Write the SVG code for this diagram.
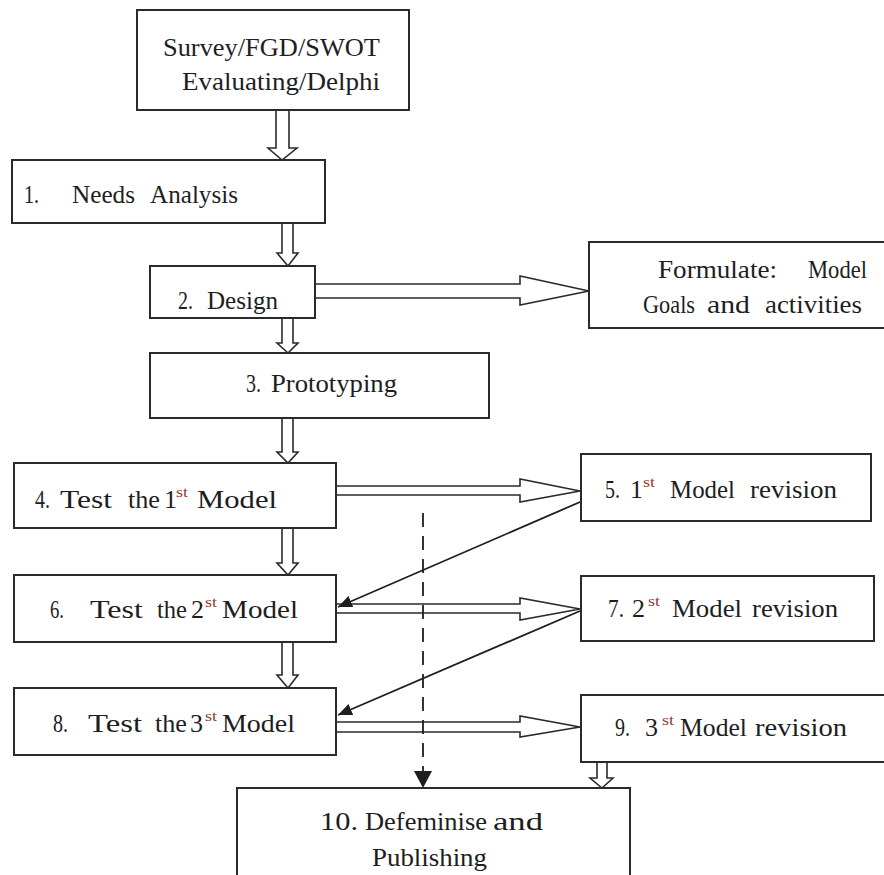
<svg xmlns="http://www.w3.org/2000/svg" width="884" height="875" viewBox="0 0 884 875">
<style>
.box{fill:#fff;stroke:#2a2a2a;stroke-width:2}
.blk{fill:#fff;stroke:#2a2a2a;stroke-width:1.6;stroke-linejoin:miter}
.ln{fill:none;stroke:#1e1e1e;stroke-width:1.8}
.dash{fill:none;stroke:#1e1e1e;stroke-width:1.8;stroke-dasharray:14 9}
text{font-family:'Liberation Serif','Times New Roman',Tinos,'Noto Serif','DejaVu Serif',serif;font-size:26px;fill:#1e1e1e}
text.sup{font-size:15px;fill:#8c3b2e}
</style>
<defs>
<marker id="ah" viewBox="0 0 14 12" refX="14" refY="6" markerWidth="14" markerHeight="12" markerUnits="userSpaceOnUse" orient="auto">
<path d="M0,0 L14,6 L0,12 Z" fill="#1e1e1e"/>
</marker>
</defs>
<rect width="884" height="875" fill="#fff"/>

<g id="connectors">
<path class="blk" d="M276,110 V148 H268 L282,160 L297,148 H289 V110"/>
<path class="blk" d="M282,223 V253 H277 L288,266 L298,253 H293 V223"/>
<path class="blk" d="M282,318 V343 H277 L288,353 L298,343 H293 V318"/>
<path class="blk" d="M282,418 V452 H277 L288,463 L298,452 H293 V418"/>
<path class="blk" d="M282,528 V563 H277 L288,575 L298,563 H293 V528"/>
<path class="blk" d="M282,642 V675 H277 L288,688 L298,675 H293 V642"/>
<path class="blk" d="M597,762 V778 H590 L602,788 L613,778 H607 V762"/>
<path class="blk" d="M315,284 H520 V276 L589,291 L520,305 V298 H315"/>
<path class="blk" d="M336,486 H520 V479 L580,491 L520,502 V495 H336"/>
<path class="blk" d="M336,604 H520 V598 L580,609 L520,620 V613 H336"/>
<path class="blk" d="M336,722 H520 V716 L580,727 L520,737 V732 H336"/>
<line class="ln" x1="580" y1="502" x2="338" y2="607" marker-end="url(#ah)"/>
<line class="ln" x1="580" y1="611" x2="338" y2="715" marker-end="url(#ah)"/>
<line class="dash" x1="423" y1="513" x2="423" y2="772"/>
<path d="M414,771 L432,771 L423,788 Z" fill="#1e1e1e"/>
</g>

<g id="n0">
<rect class="box" x="137" y="10" width="272" height="100"/>
<text x="163" y="56" textLength="217" lengthAdjust="spacingAndGlyphs">Survey/FGD/SWOT</text>
<text x="182" y="90" textLength="198" lengthAdjust="spacingAndGlyphs">Evaluating/Delphi</text>
</g>

<g id="n1">
<rect class="box" x="12" y="160" width="313" height="63"/>
<text x="24" y="203" textLength="15" lengthAdjust="spacingAndGlyphs">1.</text>
<text x="72" y="203" textLength="63" lengthAdjust="spacingAndGlyphs">Needs</text>
<text x="150" y="203" textLength="88" lengthAdjust="spacingAndGlyphs">Analysis</text>
</g>

<g id="n2">
<rect class="box" x="150" y="266" width="165" height="52"/>
<text x="178" y="309" textLength="15" lengthAdjust="spacingAndGlyphs">2.</text>
<text x="207" y="309" textLength="71" lengthAdjust="spacingAndGlyphs">Design</text>
</g>

<g id="formulate">
<rect class="box" x="589" y="242" width="310" height="86"/>
<text x="658" y="278" textLength="119" lengthAdjust="spacingAndGlyphs">Formulate:</text>
<text x="808" y="278" textLength="59" lengthAdjust="spacingAndGlyphs">Model</text>
<text x="643" y="313" textLength="52" lengthAdjust="spacingAndGlyphs">Goals</text>
<text x="707" y="313" textLength="43" lengthAdjust="spacingAndGlyphs">and</text>
<text x="765" y="313" textLength="97" lengthAdjust="spacingAndGlyphs">activities</text>
</g>

<g id="n3">
<rect class="box" x="150" y="353" width="339" height="65"/>
<text x="246" y="392" textLength="15" lengthAdjust="spacingAndGlyphs">3.</text>
<text x="271" y="392" textLength="126" lengthAdjust="spacingAndGlyphs">Prototyping</text>
</g>

<g id="n4">
<rect class="box" x="14" y="463" width="322" height="65"/>
<text x="35" y="508" textLength="15" lengthAdjust="spacingAndGlyphs">4.</text>
<text x="60" y="508" textLength="52" lengthAdjust="spacingAndGlyphs">Test</text>
<text x="128" y="508" textLength="32" lengthAdjust="spacingAndGlyphs">the</text>
<text x="164" y="508">1</text>
<text class="sup" x="176" y="497" textLength="12" lengthAdjust="spacingAndGlyphs">st</text>
<text x="197" y="508" textLength="80" lengthAdjust="spacingAndGlyphs">Model</text>
</g>

<g id="n5">
<rect class="box" x="581" y="454" width="290" height="67"/>
<text x="605" y="498" textLength="15" lengthAdjust="spacingAndGlyphs">5.</text>
<text x="630" y="498">1</text>
<text class="sup" x="643" y="487" textLength="12" lengthAdjust="spacingAndGlyphs">st</text>
<text x="670" y="498" textLength="65" lengthAdjust="spacingAndGlyphs">Model</text>
<text x="750" y="498" textLength="87" lengthAdjust="spacingAndGlyphs">revision</text>
</g>

<g id="n6">
<rect class="box" x="14" y="575" width="322" height="67"/>
<text x="50" y="618" textLength="14" lengthAdjust="spacingAndGlyphs">6.</text>
<text x="90" y="618" textLength="53" lengthAdjust="spacingAndGlyphs">Test</text>
<text x="157" y="618" textLength="30" lengthAdjust="spacingAndGlyphs">the</text>
<text x="191" y="618">2</text>
<text class="sup" x="205" y="607" textLength="12" lengthAdjust="spacingAndGlyphs">st</text>
<text x="222" y="618" textLength="76" lengthAdjust="spacingAndGlyphs">Model</text>
</g>

<g id="n7">
<rect class="box" x="581" y="576" width="293" height="65"/>
<text x="608" y="617" textLength="16" lengthAdjust="spacingAndGlyphs">7.</text>
<text x="632" y="617">2</text>
<text class="sup" x="648" y="606" textLength="12" lengthAdjust="spacingAndGlyphs">st</text>
<text x="672" y="617" textLength="70" lengthAdjust="spacingAndGlyphs">Model</text>
<text x="752" y="617" textLength="86" lengthAdjust="spacingAndGlyphs">revision</text>
</g>

<g id="n8">
<rect class="box" x="14" y="688" width="322" height="67"/>
<text x="53" y="732" textLength="15" lengthAdjust="spacingAndGlyphs">8.</text>
<text x="88" y="732" textLength="54" lengthAdjust="spacingAndGlyphs">Test</text>
<text x="155" y="732" textLength="32" lengthAdjust="spacingAndGlyphs">the</text>
<text x="190" y="732">3</text>
<text class="sup" x="205" y="721" textLength="12" lengthAdjust="spacingAndGlyphs">st</text>
<text x="222" y="732" textLength="73" lengthAdjust="spacingAndGlyphs">Model</text>
</g>

<g id="n9">
<rect class="box" x="581" y="695" width="320" height="67"/>
<text x="615" y="736" textLength="15" lengthAdjust="spacingAndGlyphs">9.</text>
<text x="645" y="736">3</text>
<text class="sup" x="662" y="725" textLength="12" lengthAdjust="spacingAndGlyphs">st</text>
<text x="680" y="736" textLength="67" lengthAdjust="spacingAndGlyphs">Model</text>
<text x="755" y="736" textLength="92" lengthAdjust="spacingAndGlyphs">revision</text>
</g>

<g id="n10">
<rect class="box" x="237" y="788" width="393" height="110"/>
<text x="320" y="830" textLength="38" lengthAdjust="spacingAndGlyphs">10.</text>
<text x="365" y="830" textLength="122" lengthAdjust="spacingAndGlyphs">Defeminise</text>
<text x="493" y="830" textLength="50" lengthAdjust="spacingAndGlyphs">and</text>
<text x="372" y="866" textLength="115" lengthAdjust="spacingAndGlyphs">Publishing</text>
</g>
</svg>
